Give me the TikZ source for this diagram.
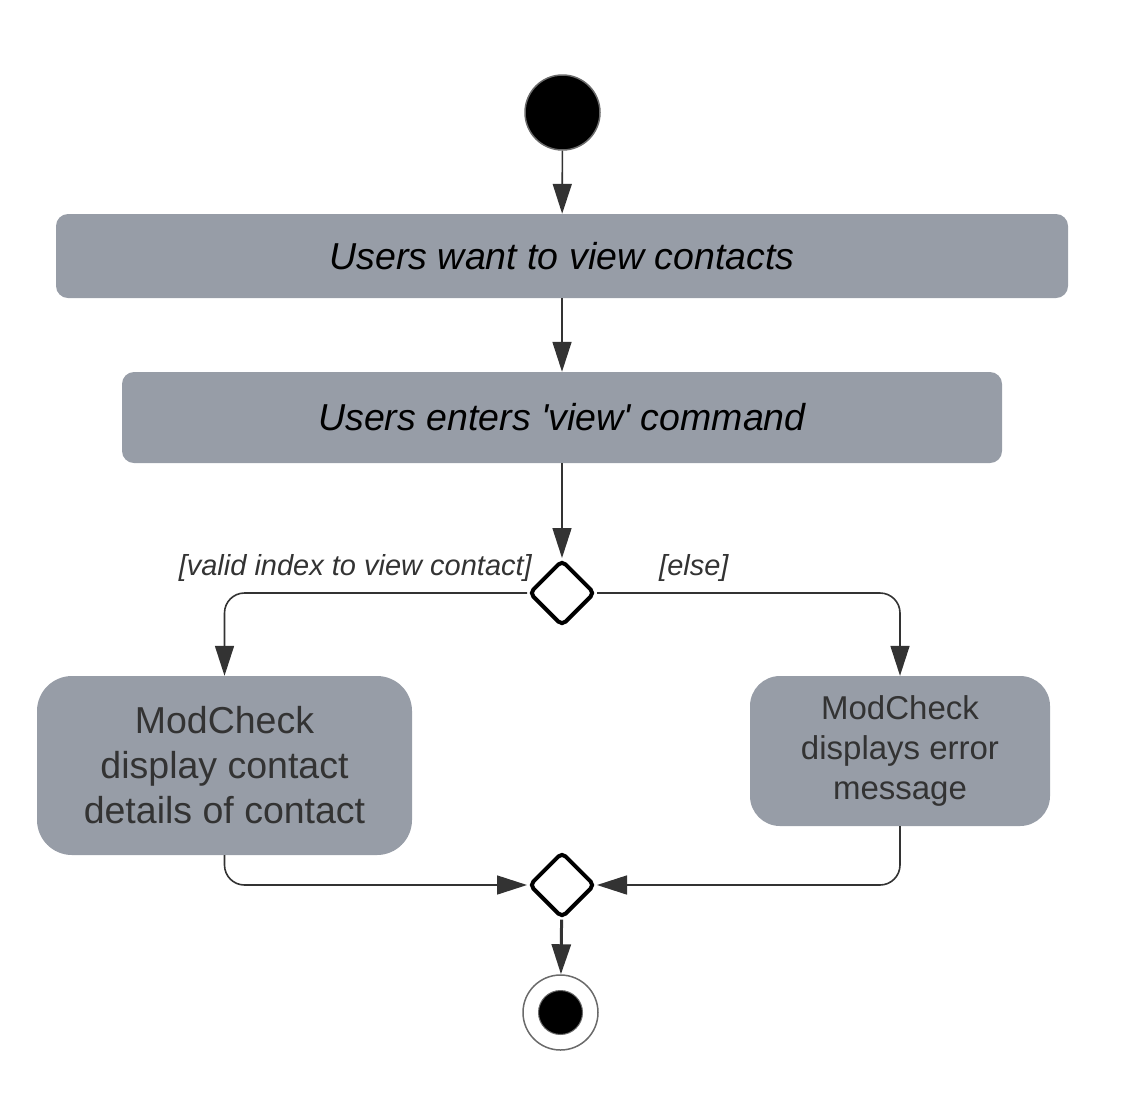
\documentclass[tikz,border=0pt]{standalone}
\usepackage{fontspec}
\setmainfont{Liberation Sans}
\usetikzlibrary{shapes.geometric,arrows.meta}
\definecolor{boxgray}{HTML}{979DA7}
\definecolor{linegray}{HTML}{333333}
\definecolor{rimgray}{HTML}{6A6A6A}
\begin{document}
\begin{tikzpicture}[x=1pt,y=-1pt,
		actbox/.style={rectangle, fill=boxgray, draw=none, align=center},
		decision/.style={diamond, draw=black, line width=4pt, rounded corners=5pt, fill=white, minimum width=66pt, minimum height=66pt},
		flow/.style={draw=linegray, line width=1.6pt, -{Triangle[length=30pt,width=19pt]}},
		guard/.style={text=linegray, font=\fontsize{29}{34}\selectfont\itshape}]
		\tikzstyle{every node}+=[inner sep=0pt]
		\useasboundingbox (0,0) rectangle (1121,1093);
		\node [circle, fill=black, draw=rimgray, line width=1.5pt, minimum size=75pt] (start) at (562.5,112.5) {};
		\node [actbox, rounded corners=12pt, minimum width=1012pt, minimum height=84pt, font=\fontsize{37.5}{45}\selectfont\itshape] (want) at (562,256) {Users want to view contacts};
		\node [actbox, rounded corners=12pt, minimum width=880pt, minimum height=91pt, font=\fontsize{37.5}{45}\selectfont\itshape] (enter) at (562,417.5) {Users enters \textquotesingle view\textquotesingle{} command};
		\node [decision] (split) at (562,593) {};
		\node [actbox, rounded corners=35pt, minimum width=375pt, minimum height=179pt, text=linegray, font=\fontsize{37.5}{45}\selectfont] (show) at (224.5,765.5) {ModCheck\\display contact\\details of contact};
		\node [actbox, rounded corners=30pt, minimum width=300pt, minimum height=150pt, text=linegray, font=\fontsize{33}{40}\selectfont] (error) at (900,751) {ModCheck\\displays error\\message};
		\node [decision] (merge) at (562,885) {};
		\node [circle, fill=white, draw=rimgray, line width=1.5pt, minimum size=75pt] (stop) at (560.5,1012.5) {};
		\node [circle, fill=black, draw=rimgray, line width=1pt, minimum size=44pt] (stopdot) at (stop.center) {};
		\node [guard, anchor=base east] (validlbl) at (532,575) {[valid index to view contact]};
		\node [guard, anchor=base west] (elselbl) at (659,575) {[else]};
		\draw [flow] (start) -- (want);
		\draw [flow] (want) -- (enter);
		\draw [flow] (enter) -- (split);
		\draw [flow, rounded corners=20pt] (split.west) -| (show);
		\draw [flow, rounded corners=20pt] (split.east) -| (error);
		\draw [flow, rounded corners=20pt] (show) |- (merge);
		\draw [flow, rounded corners=20pt] (error) |- (merge);
		\draw [flow, line width=3pt] (merge) -- (stop);
	\end{tikzpicture}
\end{document}
